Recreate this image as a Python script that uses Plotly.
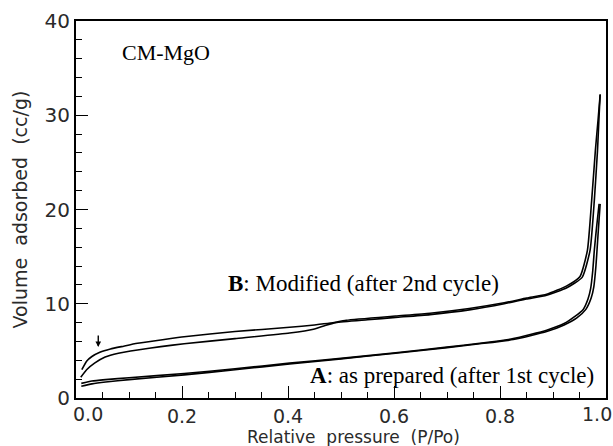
import plotly.graph_objects as go

# ---- data ----
b_ads_x = [0.009, 0.02, 0.035, 0.055, 0.08, 0.116, 0.16, 0.204, 0.3, 0.403, 0.448, 0.47, 0.49, 0.55, 0.603,
           0.668, 0.742, 0.808, 0.85, 0.888, 0.926, 0.955, 0.97, 0.978, 0.984, 0.987, 0.989]
b_ads_y = [2.2, 3.0, 3.7, 4.35, 4.75, 5.1, 5.45, 5.75, 6.3, 6.9, 7.3, 7.7, 8.0, 8.3, 8.55,
           8.85, 9.35, 10.0, 10.5, 10.9, 11.7, 12.8, 15.7, 21.0, 26.3, 30.0, 32.2]

b_des_x = [0.011, 0.02, 0.03, 0.045, 0.065, 0.09, 0.116, 0.16, 0.204, 0.3, 0.403, 0.45, 0.48, 0.51, 0.603,
           0.668, 0.742, 0.808, 0.85, 0.888, 0.926, 0.951, 0.965, 0.973, 0.98, 0.985, 0.989]
b_des_y = [3.0, 3.9, 4.4, 4.85, 5.2, 5.5, 5.8, 6.15, 6.5, 7.05, 7.5, 7.75, 7.95, 8.25, 8.7,
           9.0, 9.5, 10.1, 10.6, 11.0, 11.9, 12.9, 15.7, 21.0, 26.3, 29.5, 32.2]

a_ads_x = [0.01, 0.03, 0.056, 0.1, 0.204, 0.3, 0.403, 0.5, 0.603, 0.7, 0.762, 0.825, 0.888, 0.921,
           0.945, 0.962, 0.972, 0.977, 0.981, 0.984, 0.987, 0.989]
a_ads_y = [1.25, 1.5, 1.7, 1.95, 2.45, 3.0, 3.6, 4.15, 4.75, 5.35, 5.75, 6.2, 7.05, 7.75,
           8.5, 9.4, 10.6, 11.8, 14.0, 16.5, 19.0, 20.6]

a_des_x = [0.01, 0.03, 0.056, 0.1, 0.204, 0.3, 0.403, 0.5, 0.603, 0.7, 0.762, 0.825, 0.888, 0.921,
           0.94, 0.957, 0.966, 0.971, 0.975, 0.978, 0.982, 0.987]
a_des_y = [1.55, 1.8, 1.95, 2.15, 2.6, 3.1, 3.7, 4.2, 4.8, 5.4, 5.8, 6.3, 7.2, 7.9,
           8.6, 9.4, 10.5, 11.6, 13.5, 15.7, 18.0, 20.6]

x_tick_vals = [0.2, 0.4, 0.6, 0.8]
x_tick_text = ["0.2", "0.4", "0.6", "0.8"]
y_tick_vals = [0, 10, 20, 30, 40]
y_tick_text = ["0", "10", "20", "30", "40"]

sans = "DejaVu Sans"
serif = "Liberation Serif"
txt_col = "#2a2a2a"

fig = go.Figure()
for xs, ys in [(b_ads_x, b_ads_y), (b_des_x, b_des_y), (a_ads_x, a_ads_y), (a_des_x, a_des_y)]:
    fig.add_trace(go.Scatter(x=xs, y=ys, mode="lines",
                             line=dict(color="black", width=1.6, shape="spline", smoothing=0.5),
                             showlegend=False, hoverinfo="skip"))

fig.update_layout(
    width=613, height=446,
    margin=dict(l=76, r=7, t=21, b=48, autoexpand=False),
    paper_bgcolor="white", plot_bgcolor="white",
    font=dict(family=sans, color=txt_col),
)
fig.update_xaxes(
    range=[0, 1], showgrid=False, zeroline=False, automargin=False,
    showline=True, linecolor="black", linewidth=2, mirror=True,
    tickmode="array", tickvals=x_tick_vals, ticktext=x_tick_text,
    ticks="inside", ticklen=12, tickwidth=1.3, tickcolor="black",
    minor=dict(dtick=0.05, tick0=0, ticks="inside", ticklen=6, tickwidth=1.2, tickcolor="black"),
    tickfont=dict(size=19, family=sans, color=txt_col),
)
fig.update_yaxes(
    range=[0, 40], showgrid=False, zeroline=False, automargin=False,
    showline=True, linecolor="black", linewidth=2, mirror=True,
    tickmode="array", tickvals=y_tick_vals, ticktext=y_tick_text,
    ticks="inside", ticklen=12, tickwidth=1.3, tickcolor="black",
    minor=dict(dtick=2, tick0=0, ticks="inside", ticklen=6, tickwidth=1.2, tickcolor="black"),
    tickfont=dict(size=20, family=sans, color=txt_col),
)

# axis titles
fig.add_annotation(x=0.5, y=0, xref="paper", yref="paper", text="Relative  pressure  (P/Po)",
                   showarrow=False, xanchor="center", yanchor="middle", xshift=12, yshift=-39,
                   font=dict(size=17, family=sans, color=txt_col))
fig.add_annotation(x=0, y=0.5, xref="paper", yref="paper", text="Volume  adsorbed  (cc/g)",
                   showarrow=False, xanchor="center", yanchor="middle", xshift=-57, textangle=-90,
                   font=dict(size=19, family=sans, color=txt_col))

# end tick labels as annotations (shifted like the reference)
fig.add_annotation(x=0, y=0, xref="x", yref="y", text="0.0", showarrow=False,
                   xanchor="left", yanchor="top", xshift=-5, yshift=-3,
                   font=dict(size=19, family=sans, color=txt_col))
fig.add_annotation(x=1, y=0, xref="x", yref="y", text="1.0", showarrow=False,
                   xanchor="right", yanchor="top", xshift=8, yshift=-3,
                   font=dict(size=19, family=sans, color=txt_col))

fig.add_annotation(x=0.083, y=36.7, xref="x", yref="y", text="CM-MgO", showarrow=False,
                   xanchor="left", yanchor="middle", font=dict(size=22, family=serif, color="black"))
fig.add_annotation(x=0.283, y=12.2, xref="x", yref="y", text="<b>B</b>: Modified (after 2nd cycle)",
                   showarrow=False, xanchor="left", yanchor="middle",
                   font=dict(size=23, family=serif, color="black"))
fig.add_annotation(x=0.438, y=2.35, xref="x", yref="y", text="<b>A</b>: as prepared (after 1st cycle)",
                   showarrow=False, xanchor="left", yanchor="middle",
                   font=dict(size=23, family=serif, color="black"))
fig.add_annotation(x=0.042, y=5.4, ax=0.042, ay=6.8, xref="x", yref="y", axref="x", ayref="y",
                   text="", showarrow=True, arrowhead=2, arrowsize=0.8, arrowwidth=1.4, arrowcolor="black")

fig.write_html("out.html", config={"displayModeBar": False},
               post_script="document.body.style.margin='0';document.body.style.overflow='hidden';")
